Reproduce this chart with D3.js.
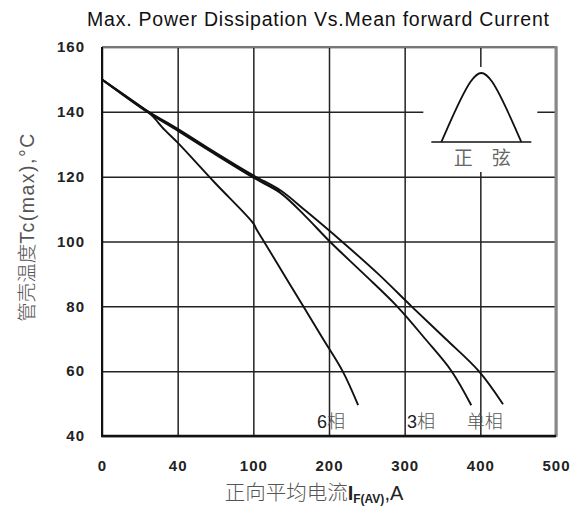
<!DOCTYPE html>
<html>
<head>
<meta charset="utf-8">
<script src="https://cdn.jsdelivr.net/npm/d3@7"></script>
<style>
  body { margin: 0; background: #fff; }
  svg { display: block; }
  .tick text { font-family: "Liberation Sans", Arial, sans-serif; font-weight: bold; font-size: 15px; fill: #222; letter-spacing: 1px; }
  .grid line { stroke: #222; stroke-width: 1.5; }
</style>
</head>
<body>
<div id="chart"></div>
<script>
// tick labels (the x axis is spaced evenly, not linear)
const xTicks = [0, 40, 100, 200, 300, 400, 500];
const yTicks = [40, 60, 80, 100, 120, 140, 160];

// curves: [I_F(AV) A, Tc °C]
const singlePhase = [[0, 150], [24.3, 140.2], [40, 134.8], [69.3, 127.6], [100, 120.4], [135.7, 115.8],
  [170, 109.3], [217, 100], [265, 90], [309, 80], [354, 70], [398, 60], [430, 49.8]];
const threePhase = [[0, 150], [24.3, 139.8], [40, 134.2], [69.3, 127.0], [100, 119.7], [135.7, 115.0],
  [168, 108], [201, 100], [246, 90], [290, 80], [327, 70], [362, 60], [388, 49.5]];
const sixPhase = [[0, 150], [24.3, 140], [27, 138.5], [33, 134.5], [40, 130.5], [69.3, 118.2],
  [100, 105.6], [104.5, 103.6], [114, 100], [140, 90], [166, 80], [192, 70], [218, 60], [238.5, 49.5]];
// short third trace that thickens the upper pair
const extraTrace = [[0, 150], [24.3, 140], [40, 134.5], [69.3, 127.3], [100, 120], [135.7, 115.4]];

const curveLabels = [
  { num: "6", text: "相", x: 184, y: 42.4 },
  { num: "3", text: "相", x: 303, y: 42.4 },
  { num: "", text: "单相", x: 382, y: 42.4 }
];

const W = 574, H = 508;
const margin = { top: 47, right: 18, bottom: 72, left: 102 };
const width = W - margin.left - margin.right;
const height = H - margin.top - margin.bottom;

const svg = d3.select("#chart").append("svg")
  .attr("width", W).attr("height", H);

// title
svg.append("text")
  .attr("x", 318).attr("y", 26)
  .attr("text-anchor", "middle")
  .attr("textLength", 462).attr("lengthAdjust", "spacing")
  .style("font-family", "'Liberation Sans', Arial, sans-serif")
  .style("font-size", "19.5px")
  .style("fill", "#111")
  .text("Max. Power Dissipation Vs.Mean forward Current");

const g = svg.append("g").attr("transform", `translate(${margin.left},${margin.top})`);

const step = width / (xTicks.length - 1);
const x = d3.scaleLinear().domain(xTicks).range(xTicks.map((d, i) => i * step));
const y = d3.scaleLinear().domain([40, 160]).range([height, 0]);

// grid + tick labels
g.append("g").attr("class", "grid")
  .call(d3.axisLeft(y).tickValues(yTicks).tickSize(-width).tickPadding(17))
  .call(s => s.select(".domain").remove());

g.append("g").attr("class", "grid")
  .attr("transform", `translate(0,${height})`)
  .call(d3.axisBottom(x).tickValues(xTicks).tickFormat(d3.format("d")).tickSize(-height).tickPadding(24))
  .call(s => s.select(".domain").remove());

// frame
g.append("line").attr("x1", 0).attr("x2", width).attr("y1", 0).attr("y2", 0)
  .attr("stroke", "#777").attr("stroke-width", 2);
g.append("line").attr("x1", width).attr("x2", width).attr("y1", -1).attr("y2", height + 1)
  .attr("stroke", "#888").attr("stroke-width", 3);
g.append("line").attr("x1", 0).attr("x2", 0).attr("y1", 0).attr("y2", height)
  .attr("stroke", "#111").attr("stroke-width", 2);
g.append("line").attr("x1", -1).attr("x2", width).attr("y1", height).attr("y2", height)
  .attr("stroke", "#111").attr("stroke-width", 2.5);

// sine inset (white box hides the grid behind it)
const inset = g.append("g").attr("transform", `translate(${x(400)},0)`);
inset.append("rect").attr("x", -57).attr("y", 20).attr("width", 114).attr("height", 105).attr("fill", "#fff");
inset.append("line").attr("x1", -49).attr("x2", 51).attr("y1", 95).attr("y2", 95)
  .attr("stroke", "#111").attr("stroke-width", 1.6);
inset.append("path")
  .attr("d", "M-39,95 C-30,75 -20,50 -10,35 C-5,28 -2,26 1,26 C4,26 7,28 12,35 C22,50 32,75 41,95")
  .attr("fill", "none").attr("stroke", "#111").attr("stroke-width", 1.8);
inset.append("text").attr("x", 2).attr("y", 118).attr("text-anchor", "middle")
  .style("font-family", "'Noto Sans CJK SC', sans-serif").style("font-size", "19px")
  .style("fill", "#666").text("正\u3000弦");

// curves
const line = d3.line().x(d => x(d[0])).y(d => y(d[1])).curve(d3.curveCatmullRom.alpha(0.5));
[singlePhase, threePhase, sixPhase, extraTrace].forEach(series => {
  g.append("path").datum(series)
    .attr("d", line)
    .attr("fill", "none")
    .attr("stroke", "#111")
    .attr("stroke-width", 1.9);
});

// curve labels
curveLabels.forEach(l => {
  const t = g.append("text")
    .attr("x", x(l.x)).attr("y", y(l.y))
    .style("font-size", "18px");
  if (l.num) {
    t.append("tspan").text(l.num)
      .style("font-family", "'Liberation Sans', Arial, sans-serif").style("fill", "#222");
  }
  t.append("tspan").text(l.text)
    .style("font-family", "'Noto Sans CJK SC', sans-serif").style("font-weight", 300).style("fill", "#555");
});

// axis titles
const xt = svg.append("text").attr("x", 314).attr("y", 500).attr("text-anchor", "middle");
xt.append("tspan").text("正向平均电流")
  .style("font-family", "'Noto Sans CJK SC', sans-serif").style("font-weight", 300)
  .style("font-size", "20.5px").style("fill", "#555");
xt.append("tspan").text("I")
  .style("font-family", "'Liberation Sans', Arial, sans-serif").style("font-weight", "bold")
  .style("font-size", "20px").style("fill", "#222");
xt.append("tspan").text("F(AV)").attr("dy", 3)
  .style("font-family", "'Liberation Sans', Arial, sans-serif").style("font-weight", "bold")
  .style("font-size", "12px").style("fill", "#222");
xt.append("tspan").text(",A").attr("dy", -3)
  .style("font-family", "'Liberation Sans', Arial, sans-serif")
  .style("font-size", "20px").style("fill", "#222");

svg.append("text")
  .attr("transform", "translate(34,227) rotate(-90)")
  .attr("text-anchor", "middle")
  .style("font-size", "19.5px").style("fill", "#555")
  .call(t => {
    t.append("tspan").text("管壳温度")
      .style("font-family", "'Noto Sans CJK SC', sans-serif").style("font-weight", 300);
    t.append("tspan").text("Tc(max),°C")
      .style("font-family", "'Liberation Sans', Arial, sans-serif").style("letter-spacing", "1.5px");
  });
</script>
</body>
</html>
